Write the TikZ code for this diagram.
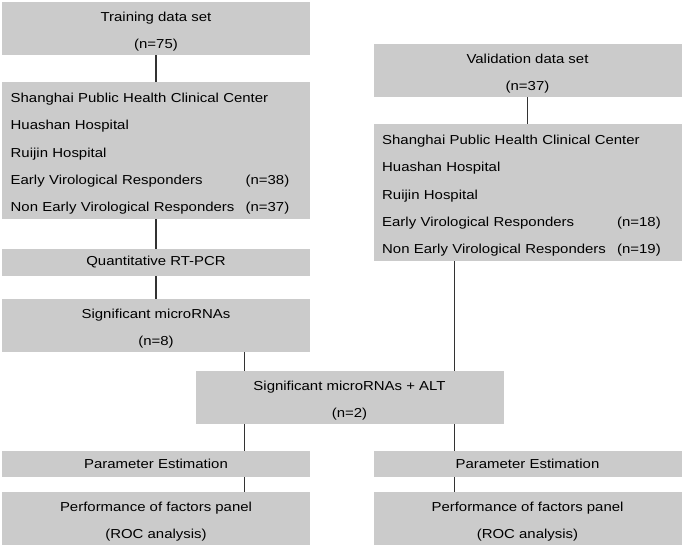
\documentclass[tikz,border=0pt]{standalone}
\usepackage{fontspec}
\setmainfont{Liberation Sans}[FakeStretch=1.15]
\definecolor{boxgray}{RGB}{203,203,203}
\definecolor{linegray}{RGB}{51,51,51}
\newcommand{\tstrut}{\rule{0pt}{16pt}}
\newcommand{\nval}[1]{\hskip 0pt plus 1filll #1\hbox to 12pt{}}

\begin{document}
\begin{tikzpicture}[x=1pt, y=-1pt,
    box/.style={fill=boxgray, inner sep=0pt, minimum width=308pt, align=center,
      font=\fontsize{13}{27.3}\selectfont},
    listbox/.style={box, align=left, text width=290.6pt, inner xsep=8.7pt},
    link/.style={draw=linegray, line width=1.1pt}]
  \useasboundingbox (0,0) rectangle (685,548);
  % Training branch
  \node[box, minimum height=53pt] (train) at (156,28.5) {\tstrut Training data set\\(n=75)};
  \node[listbox, minimum height=137pt] (trainsite) at (156,150.5) {\tstrut Shanghai Public Health Clinical Center\\Huashan Hospital\\Ruijin Hospital\\Early Virological Responders\nval{(n=38)}\\Non Early Virological Responders\nval{(n=37)}};
  \node[box, minimum height=27pt] (pcr) at (156,262.5) {Quantitative RT-PCR};
  \node[box, minimum height=53pt] (sigmir) at (156,325.5) {\tstrut Significant microRNAs\\(n=8)};
  % Validation branch
  \node[box, minimum height=53pt] (valid) at (527.5,70.5) {\tstrut Validation data set\\(n=37)};
  \node[listbox, minimum height=137pt] (validsite) at (527.5,192.5) {\tstrut Shanghai Public Health Clinical Center\\Huashan Hospital\\Ruijin Hospital\\Early Virological Responders\nval{(n=18)}\\Non Early Virological Responders\nval{(n=19)}};
  % Combined model
  \node[box, minimum height=53pt] (alt) at (349.5,397.5) {\tstrut Significant microRNAs + ALT\\(n=2)};
  \node[box, minimum height=26pt] (paramL) at (156,464) {Parameter Estimation};
  \node[box, minimum height=26pt] (paramR) at (527.5,464) {Parameter Estimation};
  \node[box, minimum height=53pt] (perfL) at (156,518.5) {\tstrut Performance of factors panel\\(ROC analysis)};
  \node[box, minimum height=53pt] (perfR) at (527.5,518.5) {\tstrut Performance of factors panel\\(ROC analysis)};
  \coordinate (colL) at ([xshift=-105pt]alt.south);
  \coordinate (colR) at ([xshift=105pt]alt.south);
  % Connectors
  \draw[link] (train) -- (trainsite);
  \draw[link] (trainsite) -- (pcr);
  \draw[link] (pcr) -- (sigmir);
  \draw[link] (valid) -- (validsite);
  \draw[link] (colL |- sigmir.south) -- (colL |- alt.north);
  \draw[link] (colR |- validsite.south) -- (colR |- alt.north);
  \draw[link] (colL) -- (colL |- paramL.north);
  \draw[link] (colR) -- (colR |- paramR.north);
  \draw[link] (colL |- paramL.south) -- (colL |- perfL.north);
  \draw[link] (colR |- paramR.south) -- (colR |- perfR.north);
\end{tikzpicture}
\end{document}
